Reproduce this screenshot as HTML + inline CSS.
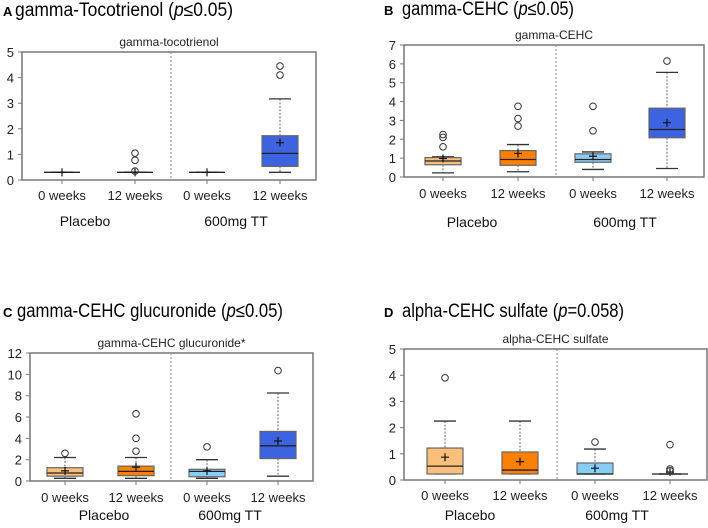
<!DOCTYPE html>
<html><head><meta charset="utf-8"><style>
body{margin:0;background:#fff;width:708px;height:523px;overflow:hidden}
svg{font-family:"Liberation Sans",Arial,sans-serif}
</style></head><body>
<svg id="chart" width="708" height="523" xmlns="http://www.w3.org/2000/svg"></svg>
<script>
const categories = ["0 weeks","12 weeks","0 weeks","12 weeks"];
const groups = ["Placebo","600mg TT"];
// panel A
const aMin=[0.3,0.3,0.3,0.3], aQ1=[0.3,0.3,0.3,0.53], aMed=[0.3,0.3,0.3,1.04], aQ3=[0.3,0.3,0.3,1.73], aMax=[0.3,0.3,0.3,3.17], aMean=[0.3,0.3,0.3,1.46];
const aOut=[[],[0.35,0.77,1.05],[],[4.1,4.45]];
const aTicks=[0,1,2,3,4,5];
// panel B
const bMin=[0.22,0.28,0.4,0.45], bQ1=[0.65,0.62,0.78,2.08], bMed=[0.85,0.93,0.93,2.52], bQ3=[1.03,1.4,1.23,3.65], bMax=[1.07,1.72,1.33,5.55], bMean=[0.98,1.25,1.1,2.88];
const bOut=[[1.6,2.1,2.25],[2.7,3.1,3.75],[2.45,3.75],[6.15]];
const bTicks=[0,1,2,3,4,5,6,7];
// panel C
const cMin=[0.25,0.25,0.25,0.45], cQ1=[0.45,0.5,0.4,2.1], cMed=[0.75,0.9,0.9,3.3], cQ3=[1.25,1.4,1.1,4.65], cMax=[2.2,2.2,2.0,8.25], cMean=[0.95,1.3,0.95,3.75];
const cOut=[[2.6],[2.8,4.0,6.3],[3.2],[10.35]];
const cTicks=[0,2,4,6,8,10,12];
// panel D
const dMin=[0.23,0.23,0.23,0.23], dQ1=[0.23,0.23,0.23,0.23], dMed=[0.53,0.38,0.23,0.23], dQ3=[1.22,1.07,0.65,0.23], dMax=[2.25,2.25,1.18,0.23], dMean=[0.87,0.7,0.45,0.3];
const dOut=[[3.9],[],[1.45],[0.35,0.42,1.35]];
const dTicks=[0,1,2,3,4,5];

const colors=["#fbbf7c","#ff8000","#88cdf3","#3d63e0"];
const svg=document.getElementById('chart');
const NS="http://www.w3.org/2000/svg";
function el(tag,attrs,parent,text){const e=document.createElementNS(NS,tag);for(const k in attrs)e.setAttribute(k,attrs[k]);if(text!==undefined)e.textContent=text;(parent||svg).appendChild(e);return e;}

function panel(cfg){
  const g=el('g',{});
  
  
  const lbl=el('text',{x:cfg.lx,y:cfg.ty,'font-size':13,'font-weight':'bold'},g,cfg.letter);
  
  
  const t=el('text',{x:cfg.tx,y:cfg.ty,'font-size':19,textLength:cfg.tw,lengthAdjust:'spacingAndGlyphs'},g);
  
  
  el('tspan',{},t,cfg.title+' (');
  el('tspan',{'font-style':'italic'},t,'p');
  el('tspan',{},t,cfg.ptxt+')');
  const yMax=cfg.ticks[cfg.ticks.length-1];
  const y=v=>cfg.bottom-(v/yMax)*(cfg.bottom-cfg.top);
  const st=el('text',{x:(cfg.left+cfg.right)/2,y:cfg.top-6,'font-size':12,'text-anchor':'middle',fill:'#222'},g,cfg.sub);
  
  
  const frame=el('rect',{x:cfg.left,y:cfg.top,width:cfg.right-cfg.left,height:cfg.bottom-cfg.top,fill:'none',stroke:'#777','stroke-width':1.5},g);
  
  
  cfg.ticks.forEach(v=>{
    el('line',{x1:cfg.left-4,x2:cfg.left,y1:y(v),y2:y(v),stroke:'#777'},g);
    const tl=el('text',{x:cfg.left-8,y:y(v)+5,'font-size':13,'text-anchor':'end',fill:'#222'},g,v);
    
    
  });
  const dv=el('line',{x1:cfg.div,x2:cfg.div,y1:cfg.top,y2:cfg.bottom,stroke:'#888','stroke-dasharray':'2,2'},g);
  
  
  const bw=36;
  cfg.cx.forEach((cx,i)=>{
    const bg=el('g',{},g);
    
    
    el('line',{x1:cx,x2:cx,y1:y(cfg.max[i]),y2:y(cfg.q3[i]),stroke:'#666','stroke-dasharray':'2,1.5'},bg);
    el('line',{x1:cx,x2:cx,y1:y(cfg.q1[i]),y2:y(cfg.min[i]),stroke:'#666','stroke-dasharray':'2,1.5'},bg);
    el('line',{x1:cx,x2:cx,y1:cfg.bottom,y2:cfg.bottom+4,stroke:'#777'},bg);
    el('line',{x1:cx-11,x2:cx+11,y1:y(cfg.max[i]),y2:y(cfg.max[i]),stroke:'#333','stroke-width':1.3},bg);
    el('line',{x1:cx-11,x2:cx+11,y1:y(cfg.min[i]),y2:y(cfg.min[i]),stroke:'#333','stroke-width':1.3},bg);
    if(cfg.q3[i]>cfg.q1[i]){
      el('rect',{x:cx-bw/2,y:y(cfg.q3[i]),width:bw,height:y(cfg.q1[i])-y(cfg.q3[i]),fill:colors[i],stroke:'#666','stroke-width':1.2},bg);
    }
    el('line',{x1:cx-bw/2,x2:cx+bw/2,y1:y(cfg.med[i]),y2:y(cfg.med[i]),stroke:'#222','stroke-width':1.3},bg);
    const m=y(cfg.mean[i]);
    el('path',{d:`M${cx-4},${m}H${cx+4}M${cx},${m-4}V${m+4}`,stroke:'#111','stroke-width':1.2},bg);
    cfg.out[i].forEach(o=>{
      const c=el('circle',{cx:cx,cy:y(o),r:3.3,fill:'none',stroke:'#333','stroke-width':1},bg);
      
      
    });
    const xl=el('text',{x:cx,y:cfg.xly,'font-size':13,'text-anchor':'middle',fill:'#222'},g,categories[i]);
    
    
  });
  groups.forEach((gn,j)=>{
    const gt=el('text',{x:cfg.gx[j],y:cfg.gy,'font-size':14,'text-anchor':'middle',fill:'#111'},g,gn);
    
    
  });
}
panel({id:'a',letter:'A',title:'gamma-Tocotrienol',ptxt:'≤0.05',tw:218,lx:3,tx:15,ty:16,sub:'gamma-tocotrienol',left:22,right:316,top:52,bottom:180,div:171,cx:[62,135,207,280],xly:200,gx:[85,236],gy:226,ticks:aTicks,min:aMin,q1:aQ1,med:aMed,q3:aQ3,max:aMax,mean:aMean,out:aOut});
panel({id:'b',letter:'B',title:'gamma-CEHC',ptxt:'≤0.05',tw:172,lx:384,tx:402,ty:15,sub:'gamma-CEHC',left:404,right:704,top:45,bottom:177,div:556,cx:[443,518,593,667],xly:198,gx:[472,625],gy:227,ticks:bTicks,min:bMin,q1:bQ1,med:bMed,q3:bQ3,max:bMax,mean:bMean,out:bOut});
panel({id:'c',letter:'C',title:'gamma-CEHC glucuronide',ptxt:'≤0.05',tw:266,lx:3,tx:17,ty:317,sub:'gamma-CEHC glucuronide*',left:30,right:313,top:353,bottom:481,div:171,cx:[65,136,207,278],xly:502,gx:[104,230],gy:520,ticks:cTicks,min:cMin,q1:cQ1,med:cMed,q3:cQ3,max:cMax,mean:cMean,out:cOut});
panel({id:'d',letter:'D',title:'alpha-CEHC sulfate',ptxt:'=0.058',tw:222,lx:384,tx:402,ty:317,sub:'alpha-CEHC sulfate',left:404,right:707,top:349,bottom:480,div:557,cx:[445,520,595,670],xly:500,gx:[470,617],gy:520,ticks:dTicks,min:dMin,q1:dQ1,med:dMed,q3:dQ3,max:dMax,mean:dMean,out:dOut});
</script>
</body></html>
